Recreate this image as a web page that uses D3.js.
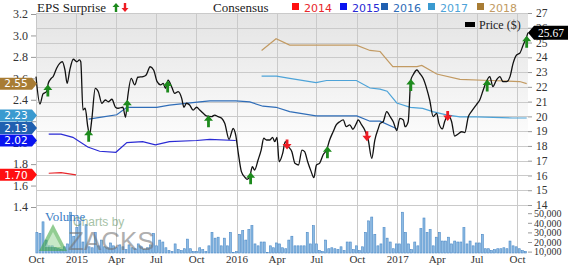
<!DOCTYPE html>
<html>
<head>
<meta charset="utf-8">
<style>
  body { margin: 0; background: #fff; }
  svg { display: block; font-family: 'Liberation Serif', serif; }
  .axis path { display: none; }
  .axis line { stroke: #999; }
  .axis text { fill: #333; font-family: 'Liberation Serif', serif; }
</style>
</head>
<body>
<svg width="570" height="266"></svg>
<script src="https://cdn.jsdelivr.net/npm/d3@7"></script>
<script>
const width = 570;
const height = 266;

// closing price ($)
const priceData = [
  ['2014-10-01', 22.69], ['2014-10-10', 20.84], ['2014-10-17', 21.52], ['2014-10-25', 21.67], ['2014-10-29', 22.24],
  ['2014-11-05', 22.58], ['2014-11-09', 22.69], ['2014-11-17', 23.26], ['2014-11-24', 23.59], ['2014-11-30', 23.70],
  ['2014-12-06', 23.14], ['2014-12-11', 22.24], ['2014-12-17', 23.14], ['2014-12-25', 23.87], ['2015-01-02', 23.70],
  ['2015-01-08', 23.82], ['2015-01-11', 23.70], ['2015-01-16', 20.43], ['2015-01-21', 20.55], ['2015-01-27', 19.30],
  ['2015-01-31', 18.74], ['2015-02-05', 19.76], ['2015-02-13', 21.90], ['2015-02-20', 21.67], ['2015-02-28', 20.89],
  ['2015-03-08', 21.11], ['2015-03-15', 20.99], ['2015-03-23', 21.16], ['2015-03-31', 20.62], ['2015-04-06', 20.55],
  ['2015-04-17', 20.62], ['2015-04-23', 19.94], ['2015-04-28', 21.33], ['2015-05-06', 22.58], ['2015-05-14', 22.13],
  ['2015-05-21', 22.65], ['2015-06-02', 22.69], ['2015-06-09', 22.80], ['2015-06-18', 23.36], ['2015-06-26', 23.14],
  ['2015-07-04', 22.35], ['2015-07-12', 22.13], ['2015-07-18', 22.24], ['2015-07-23', 21.90], ['2015-07-29', 22.46],
  ['2015-08-06', 22.01], ['2015-08-13', 21.56], ['2015-08-21', 21.67], ['2015-08-29', 21.22], ['2015-09-03', 20.62],
  ['2015-09-09', 20.89], ['2015-09-16', 20.77], ['2015-09-24', 20.43], ['2015-10-02', 20.62], ['2015-10-09', 20.43],
  ['2015-10-17', 20.21], ['2015-10-24', 20.03], ['2015-11-05', 19.98], ['2015-11-12', 20.09], ['2015-11-20', 19.98],
  ['2015-11-28', 19.87], ['2015-12-05', 19.53], ['2015-12-15', 18.45], ['2015-12-21', 18.96], ['2015-12-24', 19.19],
  ['2015-12-30', 18.74], ['2016-01-05', 17.50], ['2016-01-12', 16.26], ['2016-01-20', 15.88], ['2016-01-25', 15.74],
  ['2016-01-31', 15.92], ['2016-02-06', 16.59], ['2016-02-11', 16.37], ['2016-02-19', 17.05], ['2016-02-26', 17.72],
  ['2016-03-03', 18.52], ['2016-03-09', 18.40], ['2016-03-17', 18.40], ['2016-03-23', 18.58], ['2016-03-28', 18.29],
  ['2016-04-02', 18.58], ['2016-04-07', 16.93], ['2016-04-15', 17.50], ['2016-04-21', 18.29], ['2016-04-28', 17.95],
  ['2016-05-06', 17.61], ['2016-05-13', 16.82], ['2016-05-21', 16.71], ['2016-05-29', 17.72], ['2016-06-04', 17.61],
  ['2016-06-11', 16.93], ['2016-06-19', 16.26], ['2016-06-25', 15.85], ['2016-07-01', 16.71], ['2016-07-08', 16.82],
  ['2016-07-16', 17.39], ['2016-07-24', 17.72], ['2016-07-31', 18.40], ['2016-08-08', 18.96], ['2016-08-15', 19.42],
  ['2016-08-23', 19.64], ['2016-08-31', 19.76], ['2016-09-07', 19.30], ['2016-09-15', 19.42], ['2016-09-22', 19.13],
  ['2016-09-30', 19.53], ['2016-10-04', 19.76], ['2016-10-12', 19.42], ['2016-10-19', 19.08], ['2016-10-27', 18.40],
  ['2016-11-04', 17.16], ['2016-11-11', 18.40], ['2016-11-19', 19.19], ['2016-11-23', 19.53], ['2016-11-30', 19.64],
  ['2016-12-08', 20.32], ['2016-12-16', 19.98], ['2016-12-23', 19.64], ['2016-12-31', 19.04], ['2017-01-07', 19.87],
  ['2017-01-15', 19.76], ['2017-01-19', 19.30], ['2017-01-26', 19.64], ['2017-02-01', 22.46], ['2017-02-06', 22.80],
  ['2017-02-15', 23.14], ['2017-02-21', 22.92], ['2017-03-01', 22.58], ['2017-03-09', 21.90], ['2017-03-16', 21.11],
  ['2017-03-24', 19.98], ['2017-04-01', 20.21], ['2017-04-06', 19.53], ['2017-04-14', 19.15], ['2017-04-19', 19.64],
  ['2017-04-27', 20.09], ['2017-05-05', 19.64], ['2017-05-12', 18.67], ['2017-05-20', 18.81], ['2017-05-28', 18.96],
  ['2017-06-04', 18.90], ['2017-06-12', 19.98], ['2017-06-19', 20.32], ['2017-07-01', 20.82], ['2017-07-08', 21.11],
  ['2017-07-16', 21.79], ['2017-07-23', 22.35], ['2017-07-31', 22.69], ['2017-08-07', 22.01], ['2017-08-15', 22.46],
  ['2017-08-23', 22.69], ['2017-08-30', 22.35], ['2017-09-07', 22.35], ['2017-09-15', 22.69], ['2017-09-22', 23.59],
  ['2017-09-30', 24.16], ['2017-10-07', 24.27], ['2017-10-15', 24.83], ['2017-10-23', 25.40], ['2017-10-26', 25.67]
];

// consensus EPS estimates per fiscal year
const consensus2014 = [['2014-10-30', 1.715], ['2014-11-27', 1.72], ['2014-12-31', 1.70]];
const consensus2015 = [
  ['2014-10-30', 2.08], ['2014-11-27', 2.08], ['2014-12-24', 2.05], ['2015-01-27', 1.96], ['2015-02-23', 1.92],
  ['2015-04-01', 1.91], ['2015-04-26', 2.00], ['2015-06-01', 2.01], ['2015-06-30', 1.98], ['2015-08-01', 2.01],
  ['2015-10-02', 2.02], ['2015-11-01', 2.03], ['2015-12-30', 2.02]
];
const consensus2016 = [
  ['2015-01-29', 2.22], ['2015-03-03', 2.24], ['2015-04-03', 2.26], ['2015-04-26', 2.33], ['2015-07-03', 2.33],
  ['2015-08-01', 2.35], ['2015-10-09', 2.38], ['2015-11-01', 2.39], ['2015-12-30', 2.39], ['2016-01-31', 2.38],
  ['2016-03-01', 2.34], ['2016-03-31', 2.33], ['2016-05-01', 2.29], ['2016-06-30', 2.25], ['2016-10-01', 2.25],
  ['2016-10-31', 2.20], ['2016-11-23', 2.20], ['2016-12-31', 2.13]
];
const consensus2017 = [
  ['2016-02-27', 2.62], ['2016-04-01', 2.62], ['2016-05-01', 2.60], ['2016-06-30', 2.56], ['2016-07-24', 2.58],
  ['2016-09-30', 2.58], ['2016-10-31', 2.51], ['2016-11-23', 2.50], ['2016-12-09', 2.48], ['2016-12-31', 2.37],
  ['2017-01-31', 2.33], ['2017-02-28', 2.32], ['2017-03-23', 2.29], ['2017-04-23', 2.26], ['2017-05-24', 2.24],
  ['2017-07-01', 2.24], ['2017-09-21', 2.23], ['2017-10-23', 2.23]
];
const consensus2018 = [
  ['2016-02-27', 2.86], ['2016-03-31', 2.97], ['2016-05-01', 2.91], ['2016-09-30', 2.91], ['2016-10-31', 2.86],
  ['2016-11-23', 2.85], ['2016-12-22', 2.71], ['2017-02-15', 2.71], ['2017-02-26', 2.72], ['2017-04-01', 2.64],
  ['2017-05-24', 2.59], ['2017-07-31', 2.58], ['2017-10-07', 2.57], ['2017-10-23', 2.55]
];

const consensusYears = ['2014', '2015', '2016', '2017', '2018'];
const consensusSeries = [consensus2014, consensus2015, consensus2016, consensus2017, consensus2018];
const lineColors = ['#e8262b', '#2a2ad4', '#2f6db8', '#4da3d8', '#c29a62'];
const badgeColors = ['#ff1010', '#0a14f0', '#2060b0', '#3a9ad0', '#a87c34'];

// earnings report dates and surprise direction
const surpriseDates = [
  '2014-10-28', '2015-01-29', '2015-04-27', '2015-07-28', '2015-10-29', '2016-02-02', '2016-04-25',
  '2016-07-26', '2016-10-24', '2017-02-01', '2017-04-26', '2017-07-25', '2017-10-23'
];
const surpriseSigns = ['up', 'up', 'up', 'up', 'up', 'up', 'down', 'up', 'down', 'up', 'down', 'up', 'up'];

// weekly volume in thousands of shares, first week ending 2014-10-03
const volumeStart = '2014-10-03';
const volumeK = [
  30, 29, 41, 22, 16, 16, 14, 13, 12, 15, 18, 51, 26, 35, 42, 20, 38, 15, 14, 30,
  16, 22, 15, 14, 19, 16, 14, 17, 15, 12, 17, 14, 13, 18, 15, 12, 14, 17, 29, 16,
  22, 20, 14, 11, 10, 18, 12, 11, 13, 23, 13, 10, 10, 14, 12, 10, 16, 30, 24, 25,
  16, 24, 16, 30, 9, 10, 28, 32, 22, 33, 37, 18, 16, 20, 20, 9, 16, 14, 19, 18,
  14, 13, 22, 26, 16, 16, 16, 16, 30, 18, 37, 18, 11, 10, 22, 13, 14, 13, 12, 15,
  11, 20, 20, 12, 16, 11, 15, 30, 42, 46, 28, 16, 18, 35, 24, 20, 13, 18, 18, 51,
  30, 18, 12, 20, 16, 34, 45, 30, 33, 16, 25, 30, 21, 21, 25, 18, 21, 20, 20, 35,
  18, 21, 16, 19, 19, 28, 13, 13, 11, 12, 13, 13, 14, 13, 21, 16, 15, 13, 11, 10
];

const epsTicks = [1.4, 1.6, 1.8, 2.0, 2.2, 2.4, 2.6, 2.8, 3.0, 3.2];
const priceTicks = d3.range(14, 28);
const volumeTicks = [10, 20, 30, 40, 50];
const monthNames = ['Jan', 'Feb', 'Mar', 'Apr', 'May', 'Jun', 'Jul', 'Aug', 'Sep', 'Oct', 'Nov', 'Dec'];

const parse = d3.timeParse('%Y-%m-%d');
const plotLeft = 36;
const plotRight = 528;
const plotTop = 13;
const plotBottom = 253;

const x = d3.scaleTime()
  .domain([parse('2014-10-01'), parse('2017-10-26')])
  .range([plotLeft, plotRight]);
const yEps = d3.scaleLinear().domain([1.4, 3.2]).range([207, 14]);
const yPrice = d3.scaleLinear().domain([14, 27]).range([205, 13]);
const yVol = d3.scaleLinear().domain([10, 50]).range([251.6, 213.2]);

const svg = d3.select('svg');

const grad = svg.append('defs').append('linearGradient')
  .attr('id', 'bg').attr('x1', 0).attr('y1', 0).attr('x2', 0).attr('y2', 1);
grad.append('stop').attr('offset', 0).attr('stop-color', '#e4e4e4');
grad.append('stop').attr('offset', 0.58).attr('stop-color', '#ffffff');

svg.append('rect')
  .attr('x', plotLeft).attr('y', plotTop)
  .attr('width', plotRight - plotLeft).attr('height', plotBottom - plotTop)
  .attr('fill', 'url(#bg)');

// grid
const quarters = x.ticks(d3.timeMonth.every(3));
svg.append('g').selectAll('line')
  .data(quarters)
  .join('line')
  .attr('x1', d => Math.round(x(d)) + 0.5).attr('x2', d => Math.round(x(d)) + 0.5)
  .attr('y1', plotTop).attr('y2', plotBottom)
  .attr('stroke', '#cacaca');
svg.append('g').selectAll('line')
  .data(priceTicks)
  .join('line')
  .attr('x1', plotLeft).attr('x2', plotRight)
  .attr('y1', d => Math.round(yPrice(d)) + 0.5).attr('y2', d => Math.round(yPrice(d)) + 0.5)
  .attr('stroke', '#cacaca');

// volume bars
const volStart = parse(volumeStart);
svg.append('g').selectAll('rect')
  .data(volumeK)
  .join('rect')
  .attr('x', (d, i) => x(d3.timeDay.offset(volStart, i * 7)) - 1)
  .attr('y', d => yVol(d))
  .attr('width', 2)
  .attr('height', d => plotBottom - yVol(d))
  .attr('fill', '#8dbbe3')
  .attr('stroke', '#4a88c6')
  .attr('stroke-width', 0.6);

// watermark
const mark = svg.append('g').attr('opacity', 0.55);
mark.append('path')
  .attr('d', 'M53,224 L67,251 L39,251 Z')
  .attr('fill', '#3aa53a');
mark.append('path')
  .attr('d', 'M53,232 L61,247 L45,247 Z')
  .attr('fill', '#9ad79a');
mark.append('text')
  .attr('x', 73).attr('y', 226)
  .attr('font-family', 'Liberation Sans, sans-serif')
  .attr('font-size', 12)
  .attr('fill', '#5c8f5c')
  .text('Charts by');
mark.append('text')
  .attr('x', 68).attr('y', 250)
  .attr('font-family', 'Liberation Sans, sans-serif')
  .attr('font-size', 26)
  .attr('fill', '#6f6f6f')
  .text('ZACKS');

svg.append('text')
  .attr('x', 45).attr('y', 221)
  .attr('font-size', 13)
  .attr('fill', '#3b7dc4')
  .text('Volume');

// consensus lines
const epsLine = d3.line()
  .x(d => x(parse(d[0])))
  .y(d => yEps(d[1]));
consensusSeries.forEach((s, i) => {
  svg.append('path')
    .attr('d', epsLine(s))
    .attr('fill', 'none')
    .attr('stroke', lineColors[i])
    .attr('stroke-width', 1.2);
});

// price line
const priceLine = d3.line()
  .x(d => x(parse(d[0])))
  .y(d => yPrice(d[1]))
  .curve(d3.curveMonotoneX);
svg.append('path')
  .attr('d', priceLine(priceData))
  .attr('fill', 'none')
  .attr('stroke', '#111')
  .attr('stroke-width', 1.3);

// surprise arrows sit on the price line
const priceDates = priceData.map(d => parse(d[0]));
function priceAt(date) {
  const i = d3.bisectLeft(priceDates, date);
  if (i <= 0) return priceData[0][1];
  if (i >= priceData.length) return priceData[priceData.length - 1][1];
  const t = (date - priceDates[i - 1]) / (priceDates[i] - priceDates[i - 1]);
  return priceData[i - 1][1] + t * (priceData[i][1] - priceData[i - 1][1]);
}
const upArrow = 'M0,0 L4.5,5.5 L1.4,5.5 L1.4,12 L-1.4,12 L-1.4,5.5 L-4.5,5.5 Z';
const downArrow = 'M0,5 L4.5,-0.5 L1.4,-0.5 L1.4,-5 L-1.4,-5 L-1.4,-0.5 L-4.5,-0.5 Z';
svg.append('g').selectAll('path')
  .data(surpriseDates)
  .join('path')
  .attr('transform', (d, i) => {
    const dt = parse(d);
    return `translate(${x(dt)},${yPrice(priceAt(dt)) + (surpriseSigns[i] === 'up' ? -1 : 0)})`;
  })
  .attr('d', (d, i) => surpriseSigns[i] === 'up' ? upArrow : downArrow)
  .attr('fill', (d, i) => surpriseSigns[i] === 'up' ? '#1d8a1d' : '#ee1c24');

// axes
svg.append('g')
  .attr('class', 'axis')
  .attr('transform', `translate(${plotLeft},0)`)
  .call(d3.axisLeft(yEps).tickValues(epsTicks).tickFormat(d3.format('.1f')).tickSize(5).tickPadding(3))
  .selectAll('text').attr('font-size', 12);

svg.append('g')
  .attr('class', 'axis')
  .attr('transform', `translate(${plotRight},0)`)
  .call(d3.axisRight(yPrice).tickValues(priceTicks).tickSize(4).tickPadding(4))
  .selectAll('text').attr('font-size', 11.5);

svg.append('g')
  .attr('class', 'axis')
  .attr('transform', `translate(${plotRight},0)`)
  .call(d3.axisRight(yVol).tickValues(volumeTicks).tickFormat(d => d3.format(',')(d * 1000)).tickSize(4).tickPadding(2))
  .selectAll('text').attr('font-size', 10);

svg.append('g')
  .attr('class', 'axis')
  .attr('transform', `translate(0,${plotBottom})`)
  .call(d3.axisBottom(x).tickValues(quarters)
    .tickFormat(d => d.getMonth() === 0 ? d.getFullYear() : monthNames[d.getMonth()])
    .tickSize(0).tickPadding(2))
  .selectAll('text').attr('font-size', 11);

// last consensus badges on the left
const badges = consensusSeries.map((s, i) => ({
  value: s[s.length - 1][1],
  color: badgeColors[i],
  y: yEps(s[s.length - 1][1])
})).sort((a, b) => b.y - a.y);
for (let i = 1; i < badges.length; i++) {
  if (badges[i - 1].y - badges[i].y < 12.5) badges[i].y = badges[i - 1].y - 12.5;
}
const badge = svg.append('g').selectAll('g')
  .data(badges)
  .join('g')
  .attr('transform', d => `translate(0,${d.y})`);
badge.append('path')
  .attr('d', 'M0,-6 L32,-6 L37,0 L32,6 L0,6 Z')
  .attr('fill', d => d.color);
badge.append('text')
  .attr('x', 16).attr('dy', '0.35em')
  .attr('text-anchor', 'middle')
  .attr('font-family', 'DejaVu Sans, sans-serif')
  .attr('font-size', 10.5)
  .attr('fill', '#fff')
  .text(d => d3.format('.2f')(d.value));

// last price badge on the right
const lastPrice = priceData[priceData.length - 1][1];
const py = yPrice(lastPrice);
svg.append('path')
  .attr('d', `M${plotRight},${py} L${plotRight + 6},${py - 7} L568,${py - 7} L568,${py + 7} L${plotRight + 6},${py + 7} Z`)
  .attr('fill', '#000');
svg.append('text')
  .attr('x', 551).attr('y', py).attr('dy', '0.35em')
  .attr('text-anchor', 'middle')
  .attr('font-size', 11.5)
  .attr('fill', '#fff')
  .text(lastPrice.toFixed(2));

// legend
svg.append('text')
  .attr('x', 37).attr('y', 12)
  .attr('font-size', 13)
  .attr('fill', '#222')
  .text('EPS Surprise');
svg.append('path')
  .attr('transform', 'translate(116,3)')
  .attr('d', 'M0,0 L3.5,4 L1.2,4 L1.2,9 L-1.2,9 L-1.2,4 L-3.5,4 Z')
  .attr('fill', '#1d8a1d');
svg.append('path')
  .attr('transform', 'translate(125,3)')
  .attr('d', 'M0,9 L3.5,5 L1.2,5 L1.2,0 L-1.2,0 L-1.2,5 L-3.5,5 Z')
  .attr('fill', '#ee1c24');

svg.append('text')
  .attr('x', 213).attr('y', 12)
  .attr('font-size', 13)
  .attr('fill', '#222')
  .text('Consensus');

const legendX = [292, 340, 381, 428, 477];
const legend = svg.append('g').selectAll('g')
  .data(consensusYears)
  .join('g')
  .attr('transform', (d, i) => `translate(${legendX[i]},0)`);
legend.append('rect')
  .attr('x', 0).attr('y', 3)
  .attr('width', 7).attr('height', 7)
  .attr('fill', (d, i) => badgeColors[i]);
legend.append('text')
  .attr('x', 12).attr('y', 12)
  .attr('font-family', 'DejaVu Sans, sans-serif')
  .attr('font-size', 11)
  .attr('fill', (d, i) => lineColors[i])
  .text(d => d);

svg.append('rect')
  .attr('x', 465).attr('y', 22)
  .attr('width', 10).attr('height', 5)
  .attr('fill', '#000');
svg.append('text')
  .attr('x', 479).attr('y', 29)
  .attr('font-size', 12)
  .attr('fill', '#222')
  .text('Price ($)');
</script>
</body>
</html>
